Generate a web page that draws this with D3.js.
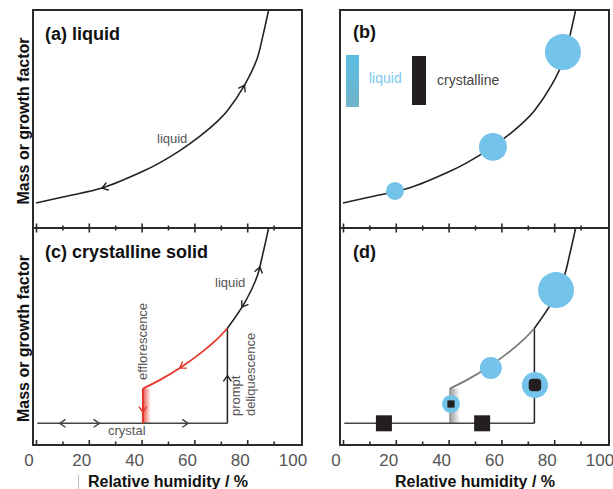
<!DOCTYPE html>
<html>
<head>
<meta charset="utf-8">
<script src="https://cdnjs.cloudflare.com/ajax/libs/d3/7.8.5/d3.min.js"></script>
<style>
  body { margin: 0; background: #fff; }
  svg { display: block; font-family: "Liberation Sans", Arial, sans-serif; }
</style>
</head>
<body>
<svg width="613" height="489"></svg>
<script>
// hygroscopic growth curve (RH in %, mass in arbitrary units 0-10)
const curveRH = [0, 12, 25, 40.5, 47, 54.5, 62, 68.6, 72.5, 79, 83.7, 86, 88.3];
const curveMass = [1.15, 1.47, 1.83, 2.6, 3.0, 3.55, 4.2, 4.88, 5.38, 6.55, 7.75, 8.85, 10.1];
const crystalMass = 1.0;
const effloRH = 40.5;
const deliqRH = 72.5;

const majorTicks = [0, 20, 40, 60, 80];
const minorTicks = [10, 30, 50, 70, 90];
const tickLabels = [0, 20, 40, 60, 80, 100];

// panel (b) droplets
const bRH = [19.7, 56.8, 83.3];
const bMass = [1.70, 3.72, 8.07];
const bDiam = [1, 1.55, 2.0];

// panel (d) particles
const dDropRH = [40.9, 56, 72.7, 80.7];
const dDropMass = [1.89, 3.55, 2.76, 7.14];
const dDropDiam = [1, 1.22, 1.45, 2.0];
const dCoreDiam = [0.45, 0, 0.78, 0];
const dCrystalRH = [15.5, 52.7];
const dCrystalDiam = [1, 1];

// arrows: position (RH or mass) and direction
const aArrows = [{ rh: 25, dir: -1 }, { rh: 79, dir: 1 }];
const cCrystalArrows = [{ rh: 9, dir: -1 }, { rh: 24, dir: 1 }, { rh: 57.6, dir: 1 }];
const cLiquidArrows = [{ rh: 78, dir: -1 }, { rh: 84.8, dir: 1 }];
const cRedArrows = [{ rh: 54.5, dir: -1 }];
const cDeliqArrowMass = 3.2;
const cEffloArrowMass = 1.5;

const W = 269;
const blue = '#74c3ea';
const dark = '#231f20';
const red = '#e5372b';
const labelGrey = '#555';

const svg = d3.select('svg');
const defs = svg.append('defs');

const x = d3.scaleLinear().domain([0, 100]).range([3, 267]);
const rScale = d3.scaleLinear().domain([0, 1]).range([0, 9]);
const sqScale = d3.scaleLinear().domain([0, 1]).range([0, 16]);

const curve = curveRH.map((r, i) => ({ rh: r, m: curveMass[i] }));

const panels = [
  { id: 'a', left: 33, top: 10, h: 218 },
  { id: 'b', left: 340, top: 10, h: 218 },
  { id: 'c', left: 33, top: 228, h: 217 },
  { id: 'd', left: 340, top: 228, h: 217 },
];

panels.forEach((p) => {
  p.y = d3.scaleLinear().domain([0, 10]).range([p.h, 0]);
  p.g = svg.append('g').attr('transform', `translate(${p.left},${p.top})`);
  defs.append('clipPath').attr('id', `clip-${p.id}`)
    .append('rect').attr('width', W).attr('height', p.h);
  p.plot = p.g.append('g').attr('clip-path', `url(#clip-${p.id})`);
  p.line = d3.line().x(d => x(d.rh)).y(d => p.y(d.m)).curve(d3.curveCatmullRom.alpha(0.5));
});
const P = Object.fromEntries(panels.map(p => [p.id, p]));

// gradients for the efflorescence bands
function bandGradient(id, color) {
  const gr = defs.append('linearGradient').attr('id', id)
    .attr('x1', 0).attr('x2', 1).attr('y1', 0).attr('y2', 0);
  gr.append('stop').attr('offset', 0).attr('stop-color', color).attr('stop-opacity', 0.85);
  gr.append('stop').attr('offset', 1).attr('stop-color', color).attr('stop-opacity', 0);
}
bandGradient('redBand', red);
bandGradient('greyBand', '#888');

const legendGrad = defs.append('linearGradient').attr('id', 'legendBlue')
  .attr('x1', 0).attr('x2', 0).attr('y1', 0).attr('y2', 1);
legendGrad.append('stop').attr('offset', 0).attr('stop-color', '#5cbde4');
legendGrad.append('stop').attr('offset', 1).attr('stop-color', '#70b4c8');

function lengthAtX(node, px) {
  let lo = 0;
  let hi = node.getTotalLength();
  for (let i = 0; i < 40; i += 1) {
    const mid = (lo + hi) / 2;
    if (node.getPointAtLength(mid).x < px) lo = mid; else hi = mid;
  }
  return lo;
}

function chevron(g, px, py, angle, color) {
  const len = 6.5;
  const spread = 0.6;
  const a1 = angle + Math.PI - spread;
  const a2 = angle + Math.PI + spread;
  g.append('path')
    .attr('d', `M${px + len * Math.cos(a1)},${py + len * Math.sin(a1)}L${px},${py}L${px + len * Math.cos(a2)},${py + len * Math.sin(a2)}`)
    .attr('fill', 'none')
    .attr('stroke', color)
    .attr('stroke-width', 1.4)
    .attr('stroke-linecap', 'round')
    .attr('stroke-linejoin', 'round');
}

function arrowsOnPath(g, pathSel, arrows, color) {
  const node = pathSel.node();
  arrows.forEach((a) => {
    const l = lengthAtX(node, x(a.rh));
    const p0 = node.getPointAtLength(Math.max(0, l - 1));
    const p1 = node.getPointAtLength(l + 1);
    let ang = Math.atan2(p1.y - p0.y, p1.x - p0.x);
    if (a.dir < 0) ang += Math.PI;
    const pt = node.getPointAtLength(l);
    chevron(g, pt.x, pt.y, ang, color);
  });
}

// ---------- panel (a)
{
  const p = P.a;
  const path = p.plot.append('path').datum(curve)
    .attr('d', p.line).attr('fill', 'none').attr('stroke', '#222').attr('stroke-width', 1.6);
  arrowsOnPath(p.plot, path, aArrows, '#222');
  p.g.append('text').attr('x', 124).attr('y', 133).attr('font-size', 13).attr('fill', labelGrey).text('liquid');
  p.g.append('text').attr('x', 12).attr('y', 30).attr('font-size', 18).attr('font-weight', 'bold').attr('fill', '#111').text('(a) liquid');
}

// ---------- panel (b)
{
  const p = P.b;
  p.plot.append('path').datum(curve)
    .attr('d', p.line).attr('fill', 'none').attr('stroke', '#222').attr('stroke-width', 1.6);
  p.plot.selectAll('circle').data(bRH).enter().append('circle')
    .attr('cx', d => x(d))
    .attr('cy', (d, i) => p.y(bMass[i]))
    .attr('r', (d, i) => rScale(bDiam[i]))
    .attr('fill', blue);
  p.g.append('text').attr('x', 13).attr('y', 28).attr('font-size', 18).attr('font-weight', 'bold').attr('fill', '#111').text('(b)');
  p.g.append('rect').attr('x', 6).attr('y', 45).attr('width', 13).attr('height', 52).attr('fill', 'url(#legendBlue)');
  p.g.append('text').attr('x', 29).attr('y', 73).attr('font-size', 14).attr('fill', '#7cc8ee').text('liquid');
  p.g.append('rect').attr('x', 72).attr('y', 46).attr('width', 14).attr('height', 49).attr('fill', dark);
  p.g.append('text').attr('x', 97).attr('y', 75).attr('font-size', 14).attr('fill', '#444').text('crystalline');
}

// ---------- panel (c)
{
  const p = P.c;
  const yC = p.y(crystalMass);
  const effloTop = p.y(curveMass[curveRH.indexOf(effloRH)]);
  const deliqTop = p.y(curveMass[curveRH.indexOf(deliqRH)]);

  // efflorescence band
  p.plot.append('rect')
    .attr('x', x(effloRH)).attr('y', effloTop)
    .attr('width', 8).attr('height', yC - effloTop)
    .attr('fill', 'url(#redBand)');

  // crystal line
  p.plot.append('line')
    .attr('x1', x(0.5)).attr('x2', x(deliqRH))
    .attr('y1', yC).attr('y2', yC)
    .attr('stroke', '#444').attr('stroke-width', 1.5);
  cCrystalArrows.forEach(a => chevron(p.plot, x(a.rh), yC, a.dir > 0 ? 0 : Math.PI, '#444'));

  // deliquescence step
  p.plot.append('line')
    .attr('x1', x(deliqRH)).attr('x2', x(deliqRH))
    .attr('y1', yC).attr('y2', deliqTop)
    .attr('stroke', '#222').attr('stroke-width', 1.5);
  chevron(p.plot, x(deliqRH), p.y(cDeliqArrowMass), -Math.PI / 2, '#222');

  // efflorescence drop
  p.plot.append('line')
    .attr('x1', x(effloRH)).attr('x2', x(effloRH))
    .attr('y1', effloTop).attr('y2', yC)
    .attr('stroke', red).attr('stroke-width', 2);
  chevron(p.plot, x(effloRH), p.y(cEffloArrowMass), Math.PI / 2, red);

  // supersaturated (red) branch and liquid branch
  const redPath = p.plot.append('path')
    .datum(curve.filter(d => d.rh >= effloRH && d.rh <= deliqRH))
    .attr('d', p.line).attr('fill', 'none').attr('stroke', red).attr('stroke-width', 1.8);
  arrowsOnPath(p.plot, redPath, cRedArrows, red);
  const liqPath = p.plot.append('path')
    .datum(curve.filter(d => d.rh >= deliqRH))
    .attr('d', p.line).attr('fill', 'none').attr('stroke', '#222').attr('stroke-width', 1.6);
  arrowsOnPath(p.plot, liqPath, cLiquidArrows, '#222');

  p.g.append('text').attr('x', 12).attr('y', 30).attr('font-size', 18).attr('font-weight', 'bold').attr('fill', '#111').text('(c) crystalline solid');
  p.g.append('text').attr('x', 182).attr('y', 59).attr('font-size', 13).attr('fill', labelGrey).text('liquid');
  p.g.append('text').attr('x', 75).attr('y', 207).attr('font-size', 13).attr('fill', labelGrey).text('crystal');
  p.g.append('text').attr('transform', 'translate(114,152) rotate(-90)')
    .attr('font-size', 13).attr('fill', labelGrey).text('efflorescence');
  p.g.append('text').attr('transform', 'translate(207,188) rotate(-90)')
    .attr('font-size', 13).attr('fill', labelGrey).text('prompt');
  p.g.append('text').attr('transform', 'translate(222,188) rotate(-90)')
    .attr('font-size', 13).attr('fill', labelGrey).text('deliquescence');
}

// ---------- panel (d)
{
  const p = P.d;
  const yC = p.y(crystalMass);
  const effloTop = p.y(curveMass[curveRH.indexOf(effloRH)]);
  const deliqTop = p.y(curveMass[curveRH.indexOf(deliqRH)]);

  p.plot.append('rect')
    .attr('x', x(effloRH)).attr('y', effloTop)
    .attr('width', 10).attr('height', yC - effloTop)
    .attr('fill', 'url(#greyBand)');
  p.plot.append('line')
    .attr('x1', x(effloRH)).attr('x2', x(effloRH))
    .attr('y1', effloTop).attr('y2', yC)
    .attr('stroke', '#999').attr('stroke-width', 1.5);
  p.plot.append('line')
    .attr('x1', x(0.5)).attr('x2', x(deliqRH))
    .attr('y1', yC).attr('y2', yC)
    .attr('stroke', '#444').attr('stroke-width', 1.5);
  p.plot.append('line')
    .attr('x1', x(deliqRH)).attr('x2', x(deliqRH))
    .attr('y1', yC).attr('y2', deliqTop)
    .attr('stroke', '#222').attr('stroke-width', 1.5);
  p.plot.append('path')
    .datum(curve.filter(d => d.rh >= effloRH && d.rh <= deliqRH))
    .attr('d', p.line).attr('fill', 'none').attr('stroke', '#7a7a7a').attr('stroke-width', 1.8);
  p.plot.append('path')
    .datum(curve.filter(d => d.rh >= deliqRH))
    .attr('d', p.line).attr('fill', 'none').attr('stroke', '#222').attr('stroke-width', 1.6);

  p.plot.selectAll('rect.crystal').data(dCrystalRH).enter().append('rect')
    .attr('class', 'crystal')
    .attr('x', (d, i) => x(d) - sqScale(dCrystalDiam[i]) / 2)
    .attr('y', (d, i) => yC - sqScale(dCrystalDiam[i]) / 2)
    .attr('width', (d, i) => sqScale(dCrystalDiam[i]))
    .attr('height', (d, i) => sqScale(dCrystalDiam[i]))
    .attr('fill', dark);

  const drops = dDropRH.map((r, i) => ({ rh: r, m: dDropMass[i], diam: dDropDiam[i], core: dCoreDiam[i] }));
  p.plot.selectAll('circle').data(drops).enter().append('circle')
    .attr('cx', d => x(d.rh)).attr('cy', d => p.y(d.m))
    .attr('r', d => rScale(d.diam)).attr('fill', blue);
  p.plot.selectAll('rect.core').data(drops.filter(d => d.core > 0)).enter().append('rect')
    .attr('class', 'core')
    .attr('x', d => x(d.rh) - sqScale(d.core) / 2)
    .attr('y', d => p.y(d.m) - sqScale(d.core) / 2)
    .attr('width', d => sqScale(d.core))
    .attr('height', d => sqScale(d.core))
    .attr('rx', d => (d.core > 0.6 ? 4 : 0))
    .attr('fill', dark);

  p.g.append('text').attr('x', 13).attr('y', 30).attr('font-size', 18).attr('font-weight', 'bold').attr('fill', '#111').text('(d)');
}

// ---------- frames and axes
panels.forEach((p) => {
  p.g.append('rect').attr('width', W).attr('height', p.h)
    .attr('fill', 'none').attr('stroke', '#2a2a2a').attr('stroke-width', 2);
});

['a', 'b'].forEach((id) => {
  const p = P[id];
  const cross = (ticks, half) => (g) => {
    g.call(d3.axisBottom(x).tickValues(ticks).tickSize(0).tickFormat(''));
    g.select('.domain').remove();
    g.selectAll('.tick line').attr('y1', -half).attr('y2', half)
      .attr('stroke', '#2a2a2a').attr('stroke-width', 1.6);
  };
  p.g.append('g').attr('transform', `translate(0,${p.h})`).call(cross(majorTicks, 4.5));
  p.g.append('g').attr('transform', `translate(0,${p.h})`).call(cross(minorTicks, 2.5));
});

['c', 'd'].forEach((id) => {
  const p = P[id];
  const inner = (ticks, len) => (g) => {
    g.call(d3.axisBottom(x).tickValues(ticks).tickSizeInner(-len).tickSizeOuter(0).tickFormat(''));
    g.select('.domain').remove();
    g.selectAll('.tick line').attr('stroke', '#2a2a2a').attr('stroke-width', 1.6);
  };
  p.g.append('g').attr('transform', `translate(0,${p.h})`).call(inner(majorTicks, 5));
  p.g.append('g').attr('transform', `translate(0,${p.h})`).call(inner(minorTicks, 3.5));

  const lab = p.g.append('g').attr('transform', `translate(0,${p.h})`)
    .call(d3.axisBottom(x).tickValues(tickLabels).tickSize(0).tickPadding(9).tickFormat(d3.format('d')));
  lab.select('.domain').remove();
  lab.selectAll('text')
    .attr('dx', -7.5)
    .attr('font-family', '"Liberation Sans", Arial, sans-serif')
    .attr('font-size', 17).attr('fill', labelGrey);

  svg.append('text')
    .attr('x', p.left + 135).attr('y', 487)
    .attr('text-anchor', 'middle').attr('font-size', 16).attr('font-weight', 'bold').attr('fill', '#111')
    .text('Relative humidity / %');
});

// y axis titles
[P.a, P.c].forEach((p) => {
  svg.append('text')
    .attr('transform', `translate(29,${p.top + p.h / 2 + 2}) rotate(-90)`)
    .attr('text-anchor', 'middle').attr('font-size', 16).attr('font-weight', 'bold').attr('fill', '#111')
    .text('Mass or growth factor');
});

// small stray mark left of the bottom-left axis title
svg.append('line').attr('x1', 78.5).attr('x2', 78.5).attr('y1', 475).attr('y2', 489)
  .attr('stroke', '#bbb').attr('stroke-width', 1);
</script>
</body>
</html>
